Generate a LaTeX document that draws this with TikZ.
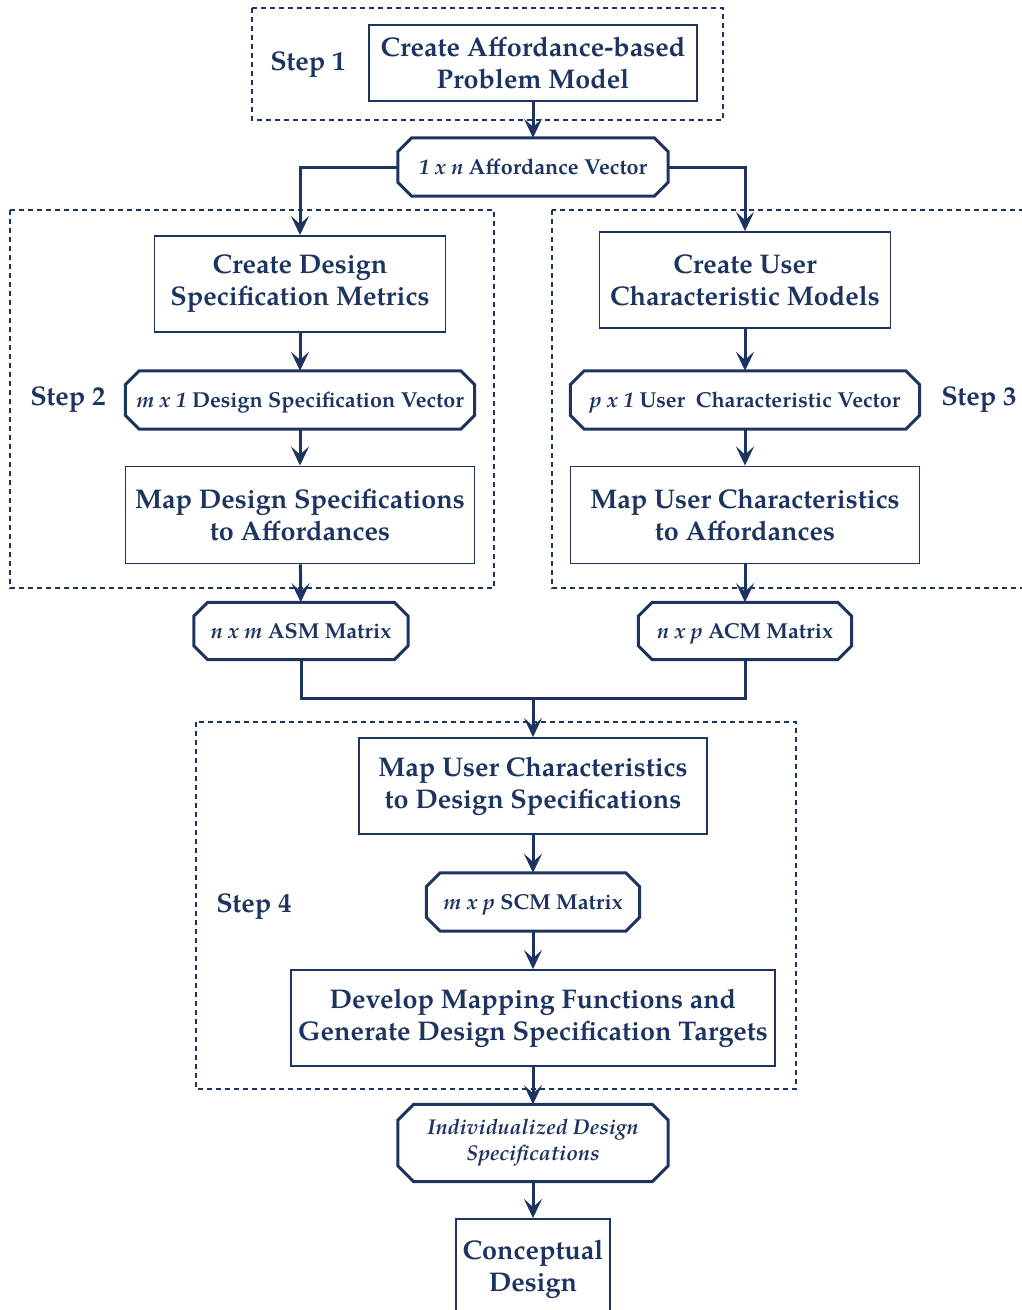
\documentclass[tikz,border=0pt]{standalone}
\usepackage{fontspec}
\setmainfont{texgyrepagella}[Extension=.otf,UprightFont=*-regular,BoldFont=*-bold,ItalicFont=*-italic,BoldItalicFont=*-bolditalic]
\usetikzlibrary{arrows.meta,calc}
\definecolor{navy}{RGB}{30,52,96}
\tikzset{
  procbox/.style={draw=navy,line width=1.9pt,text=navy,align=center,inner sep=0pt,
    font=\fontsize{27}{32}\selectfont\bfseries},
  datavec/.style={text=navy,align=center,inner sep=0pt,
    font=\fontsize{21.6}{26}\selectfont\bfseries},
  onerow/.style={text height=18pt,text depth=3pt},
  steplbl/.style={text=navy,font=\fontsize{27}{30}\selectfont\bfseries,inner sep=0pt},
  stepframe/.style={draw=navy,line width=1.3pt,dash pattern=on 5pt off 4pt},
  octline/.style={draw=navy,line width=3pt,line join=miter},
  flowline/.style={draw=navy,line width=3pt},
  flowarrow/.style={flowline,-{Stealth[length=19pt,width=18pt,inset=8pt]}},
}
% chamfered outline around a named node
\newcommand\octo[2][14pt]{%
  \draw[octline] ($(#2.north west)+(#1,0)$) -- ($(#2.north east)+(-#1,0)$)
    -- ($(#2.north east)+(0,-#1)$) -- ($(#2.south east)+(0,#1)$)
    -- ($(#2.south east)+(-#1,0)$) -- ($(#2.south west)+(#1,0)$)
    -- ($(#2.south west)+(0,#1)$) -- ($(#2.north west)+(0,-#1)$) -- cycle;}
\begin{document}
\begin{tikzpicture}[x=1pt,y=-1pt]
\useasboundingbox (0,0) rectangle (1022,1310);

% step frames
\draw[stepframe] (252,8) rectangle (723,120);
\draw[stepframe] (10,210) rectangle (494,588);
\draw[stepframe] (552,210) rectangle (1040,588);
\draw[stepframe] (196,722) rectangle (796,1089);

% step labels
\node[steplbl] (s1) at (308,65) {Step 1};
\node[steplbl] (s2) at (68,400) {Step 2};
\node[steplbl] (s3) at (979,400) {Step 3};
\node[steplbl] (s4) at (254,907) {Step 4};

% process boxes
\node[procbox,minimum width=328pt,minimum height=76pt] (b1) at (533,63) {Create Affordance-based\\Problem Model};
\node[procbox,minimum width=291pt,minimum height=96pt] (b2) at (300,284) {Create Design\\Specification Metrics};
\node[procbox,minimum width=349pt,minimum height=97pt] (b3) at (300,515) {Map Design Specifications\\to Affordances};
\node[procbox,minimum width=291pt,minimum height=96pt] (b4) at (745,280) {Create User\\Characteristic Models};
\node[procbox,minimum width=349pt,minimum height=97pt] (b5) at (745,515) {Map User Characteristics\\to Affordances};
\node[procbox,minimum width=348pt,minimum height=96pt] (b6) at (533,786) {Map User Characteristics\\to Design Specifications};
\node[procbox,minimum width=484pt,minimum height=96pt] (b7) at (533,1018) {Develop Mapping Functions and\\Generate Design Specification Targets};
\node[procbox,minimum width=154pt,minimum height=100pt] (b8) at (533,1269) {Conceptual\\Design};

% data vectors and matrices
\node[datavec,onerow,minimum width=270pt,minimum height=58pt] (o1) at (533,167) {\textit{1 x n} Affordance Vector};
\node[datavec,onerow,minimum width=349pt,minimum height=58pt] (o2) at (300,400) {\textit{m x 1} Design Specification Vector};
\node[datavec,onerow,minimum width=214pt,minimum height=57pt] (o3) at (301,631) {\textit{n x m} ASM Matrix};
\node[datavec,onerow,minimum width=349pt,minimum height=58pt] (o4) at (745,400) {\textit{p x 1} User\ \ Characteristic Vector};
\node[datavec,onerow,minimum width=213pt,minimum height=57pt] (o5) at (745,631) {\textit{n x p} ACM Matrix};
\node[datavec,onerow,minimum width=213pt,minimum height=58pt] (o6) at (533,902) {\textit{m x p} SCM Matrix};
\node[datavec,minimum width=270pt,minimum height=77pt,font=\fontsize{21.4}{26}\selectfont\bfseries\itshape] (o7) at (533,1143) {Individualized Design\\Specifications};
\foreach \n in {o1,o2,o3,o4,o5,o6}{\octo{\n}}
\octo[16pt]{o7}

% connectors
\coordinate (j) at (533,698);
\draw[flowarrow] (b1) -- (o1);
\draw[flowarrow] (o1.west) -| (b2.north);
\draw[flowarrow] (o1.east) -| (b4.north);
\draw[flowarrow] (b2) -- (o2);
\draw[flowarrow] (o2) -- (b3);
\draw[flowarrow] (b3) -- (o3);
\draw[flowarrow] (b4) -- (o4);
\draw[flowarrow] (o4) -- (b5);
\draw[flowarrow] (b5) -- (o5);
\draw[flowline] (o3.south) |- (j) -| (o5.south);
\draw[flowarrow] (j) -- (b6.north);
\draw[flowarrow] (b6) -- (o6);
\draw[flowarrow] (o6) -- (b7);
\draw[flowarrow] (b7) -- (o7);
\draw[flowarrow] (o7) -- (b8);
\end{tikzpicture}
\end{document}
